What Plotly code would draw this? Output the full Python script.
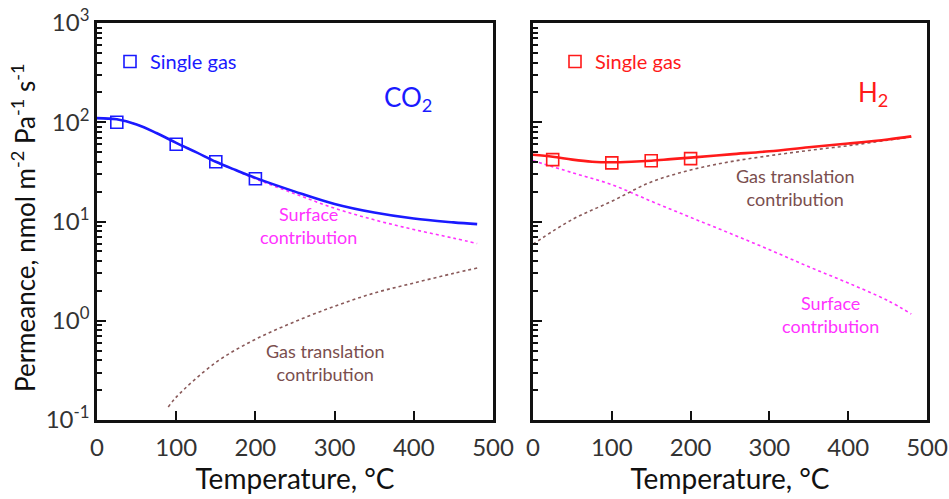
import plotly.graph_objects as go

# ---------------- data ----------------
# CO2 panel
co2_meas_T = [25, 100, 150, 200]
co2_meas_P = [100, 60, 40, 27]
co2_tot_T = [0, 25, 50, 75, 100, 125, 150, 175, 200, 250, 300, 350, 400, 450, 480]
co2_tot_P = [110, 107, 95, 78, 62, 50, 40, 33, 27.5, 20, 15, 12.3, 10.7, 9.8, 9.4]
co2_surf_T = [0, 25, 50, 75, 100, 125, 150, 175, 200, 250, 300, 350, 400, 450, 480]
co2_surf_P = [110, 107, 95, 78, 62, 50, 40, 32.7, 26.9, 19.0, 13.6, 10.4, 8.3, 6.8, 6.0]
co2_gas_T = [90, 100, 150, 200, 250, 300, 350, 400, 450, 480]
co2_gas_P = [0.135, 0.17, 0.38, 0.65, 0.98, 1.4, 1.9, 2.4, 3.0, 3.4]

# H2 panel
h2_meas_T = [25, 100, 150, 200]
h2_meas_P = [42, 39, 41, 43]
h2_tot_T = [0, 25, 50, 75, 100, 125, 150, 175, 200, 250, 300, 350, 400, 450, 480]
h2_tot_P = [47, 45, 42, 40, 39.5, 40, 41, 42.5, 44, 47.5, 51, 56, 61, 67, 72]
h2_surf_T = [0, 50, 100, 150, 200, 250, 300, 350, 400, 450, 480]
h2_surf_P = [41, 31, 23.5, 16, 11, 7.6, 5.2, 3.5, 2.4, 1.6, 1.17]
h2_gas_T = [0, 50, 100, 150, 200, 250, 300, 350, 400, 450, 480]
h2_gas_P = [5.9, 10.5, 16, 25, 33, 40, 46, 52, 58, 66, 71]

y_tickvals = [0.1, 1, 10, 100, 1000]
y_ticktext = ["10<sup>-1</sup>", "10<sup>0</sup>", "10<sup>1</sup>", "10<sup>2</sup>", "10<sup>3</sup>"]
x_tickvals = [0, 100, 200, 300, 400, 500]

# ---------------- styles ----------------
FONT = "Lato"
BLUE = "#1a1aff"
RED = "#ff1a1a"
MAGENTA = "#ff33ff"
BROWN = "#8a5a5a"
BROWN_TXT = "#7a4e4e"
W, H = 949, 499

fig = go.Figure()

def add_panel(xa, ya, tT, tP, mT, mP, sT, sP, gT, gP, color, legend):
    fig.add_trace(go.Scatter(x=sT, y=sP, mode="lines", xaxis=xa, yaxis=ya,
                             line=dict(color=MAGENTA, width=1.6, dash="dot", shape="spline"),
                             showlegend=False, hoverinfo="skip"))
    fig.add_trace(go.Scatter(x=gT, y=gP, mode="lines", xaxis=xa, yaxis=ya,
                             line=dict(color=BROWN, width=1.6, dash="dot", shape="spline"),
                             showlegend=False, hoverinfo="skip"))
    fig.add_trace(go.Scatter(x=tT, y=tP, mode="lines", xaxis=xa, yaxis=ya,
                             line=dict(color=color, width=2.6, shape="spline"),
                             showlegend=False))
    fig.add_trace(go.Scatter(x=mT, y=mP, mode="markers", xaxis=xa, yaxis=ya,
                             name="Single gas", legend=legend,
                             marker=dict(symbol="square-open", size=12, color=color,
                                         line=dict(width=1.6, color=color))))

add_panel("x", "y", co2_tot_T, co2_tot_P, co2_meas_T, co2_meas_P,
          co2_surf_T, co2_surf_P, co2_gas_T, co2_gas_P, BLUE, "legend")
add_panel("x2", "y2", h2_tot_T, h2_tot_P, h2_meas_T, h2_meas_P,
          h2_surf_T, h2_surf_P, h2_gas_T, h2_gas_P, RED, "legend2")

dom_y = [1 - 420 / H, 1 - 23 / H]
xdoms = [[97 / W, 493 / W], [533 / W, 927 / W]]

common_x = dict(range=[0, 500], tickvals=x_tickvals, ticks="inside", ticklen=9, tickwidth=2,
                tickcolor="#111", showline=True, linecolor="#111", linewidth=2.5, mirror=True,
                showgrid=False, zeroline=False, ticklabelstandoff=4, automargin=False,
                tickfont=dict(family=FONT, size=24, color="#333"),
                title=dict(text="Temperature, °C", font=dict(family=FONT, size=28, color="#111"),
                           standoff=6))
common_y = dict(type="log", range=[-1, 3], tickvals=y_tickvals, ticks="inside", ticklen=9,
                tickwidth=2, tickcolor="#111", showline=True, linecolor="#111", linewidth=2.5,
                mirror=True, showgrid=False, zeroline=False, automargin=False,
                minor=dict(ticks="inside", ticklen=5, tickwidth=1.5, tickcolor="#111",
                           dtick="D1", showgrid=False),
                domain=dom_y)

fig.update_layout(
    width=W, height=H, margin=dict(l=0, r=0, t=0, b=0),
    plot_bgcolor="white", paper_bgcolor="white",
    font=dict(family=FONT),
    xaxis=dict(domain=xdoms[0], anchor="y", **common_x),
    xaxis2=dict(domain=xdoms[1], anchor="y2", **common_x),
    yaxis=dict(anchor="x", ticktext=y_ticktext, showticklabels=True,
               tickfont=dict(family=FONT, size=24, color="#333"), **common_y),
    yaxis2=dict(anchor="x2", showticklabels=False, **common_y),
    legend=dict(x=110 / W, y=1 - 42 / H, xanchor="left", yanchor="top",
                bgcolor="rgba(0,0,0,0)", font=dict(family=FONT, size=20, color=BLUE)),
    legend2=dict(x=555 / W, y=1 - 42 / H, xanchor="left", yanchor="top",
                 bgcolor="rgba(0,0,0,0)", font=dict(family=FONT, size=20, color=RED)),
    showlegend=True,
)

def note(text, x, y, size, color, **kw):
    return dict(text=text, xref="paper", yref="paper", x=x / W, y=1 - y / H,
                showarrow=False, xanchor="center", yanchor="middle",
                font=dict(family=FONT, size=size, color=color), **kw)

ann = [
    note("Permeance, nmol m<sup>-2</sup> Pa<sup>-1</sup> s<sup>-1</sup>", 23, 228, 26, "#111",
         textangle=-90),
    note("CO<sub>2</sub>", 408, 99, 26, BLUE),
    note("H<sub>2</sub>", 873, 94, 26, RED),
    note("Surface<br>contribution", 308, 225, 18, MAGENTA),
    note("Gas translation<br>contribution", 325, 362, 18, BROWN_TXT),
    note("Gas translation<br>contribution", 795, 188, 18, BROWN_TXT),
    note("Surface<br>contribution", 830, 314, 18, MAGENTA),
]
fig.update_layout(annotations=ann)

fig.write_html("out.html")
